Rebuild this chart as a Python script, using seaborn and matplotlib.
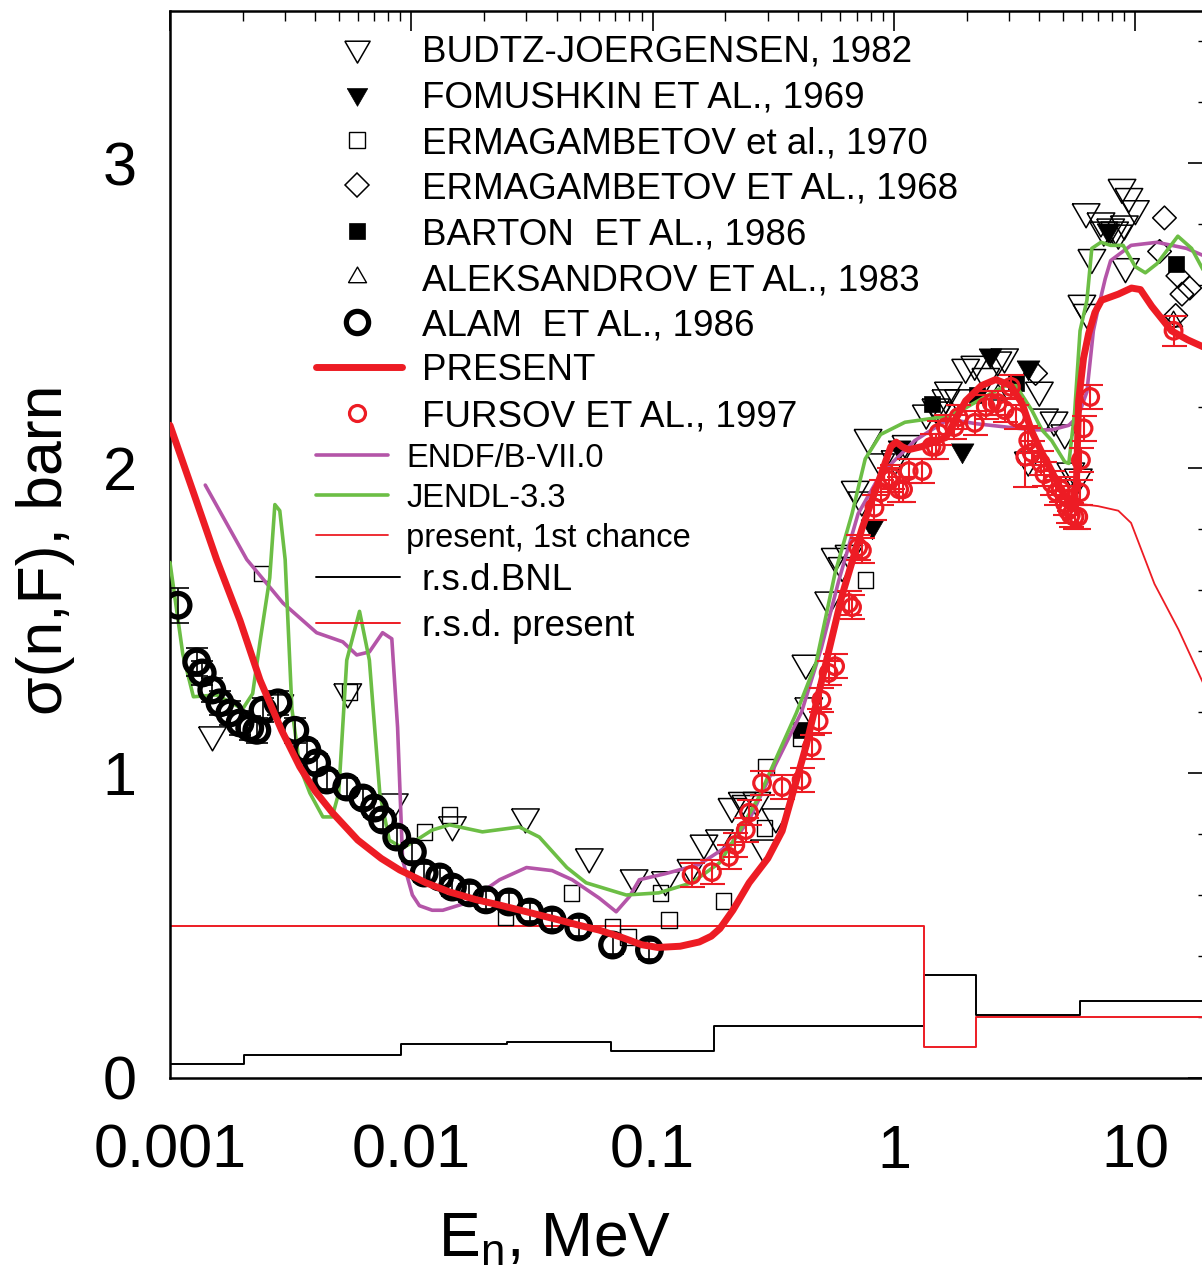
import numpy as np
import matplotlib
matplotlib.use("Agg")
import matplotlib.pyplot as plt
import seaborn as sns
from matplotlib.ticker import LogLocator, MultipleLocator, FixedLocator, FuncFormatter, NullFormatter
from matplotlib.markers import MarkerStyle
from matplotlib.lines import Line2D

# ---------------- data ----------------
present_E = [0.001, 0.00125, 0.00156, 0.00195, 0.00236, 0.00290, 0.00345, 0.0040, 0.00472, 0.0060,
             0.0075, 0.00895, 0.0115, 0.0144, 0.0185, 0.0232, 0.030, 0.040, 0.050, 0.060,
             0.075, 0.090, 0.105, 0.13, 0.156, 0.175, 0.19, 0.215, 0.251, 0.30,
             0.344, 0.431, 0.522, 0.608, 0.736, 0.867, 0.97, 1.02, 1.08, 1.15,
             1.3, 1.64, 1.98, 2.3, 2.64, 3.05, 3.4, 3.72, 4.1, 4.5,
             4.9, 5.3, 5.55, 5.7, 5.82, 6.1, 6.4, 6.8, 7.24, 8.5,
             9.64, 10.5, 11.7, 14.1, 16.5, 20.0]
present_S = [2.14, 1.92, 1.70, 1.50, 1.305, 1.14, 1.02, 0.94, 0.869, 0.78,
             0.72, 0.682, 0.64, 0.61, 0.585, 0.567, 0.545, 0.52, 0.50, 0.485,
             0.46, 0.437, 0.428, 0.432, 0.446, 0.465, 0.49, 0.55, 0.64, 0.72,
             0.81, 1.085, 1.36, 1.58, 1.80, 1.96, 2.07, 2.085, 2.07, 2.06,
             2.07, 2.10, 2.22, 2.27, 2.29, 2.27, 2.21, 2.12, 2.05, 1.99,
             1.93, 1.89, 1.875, 1.95, 2.22, 2.36, 2.44, 2.51, 2.55, 2.57,
             2.59, 2.585, 2.53, 2.45, 2.42, 2.39]

endf_E = [0.0014, 0.00208, 0.00294, 0.00405, 0.0052, 0.00594, 0.0067, 0.0076, 0.0083, 0.00877,
          0.0092, 0.0101, 0.0108, 0.0122, 0.0135, 0.0169, 0.0232, 0.030, 0.0383, 0.0464,
          0.060, 0.0706, 0.080, 0.088, 0.113, 0.156, 0.213, 0.251, 0.324, 0.414,
          0.50, 0.59, 0.71, 0.88, 1.22, 1.68, 2.2, 3.27, 3.86, 4.5,
          5.3, 5.8, 6.3, 6.7, 7.0, 7.5, 7.9, 9.6, 12.3, 16.3, 20.0]
endf_S = [1.944, 1.70, 1.557, 1.46, 1.43, 1.387, 1.397, 1.46, 1.44, 1.15,
          0.715, 0.60, 0.565, 0.55, 0.55, 0.574, 0.65, 0.69, 0.68, 0.65,
          0.59, 0.545, 0.594, 0.65, 0.67, 0.70, 0.77, 0.846, 1.03, 1.20,
          1.41, 1.63, 1.85, 1.98, 2.09, 2.16, 2.145, 2.13, 2.125, 2.125,
          2.14, 2.17, 2.25, 2.45, 2.52, 2.62, 2.68, 2.73, 2.74, 2.72, 2.69]

jendl_E = [0.001, 0.00113, 0.00125, 0.00156, 0.002, 0.0022, 0.00236, 0.00259, 0.00272, 0.00285,
           0.003, 0.0032, 0.00345, 0.0038, 0.0043, 0.0047, 0.0050, 0.0054, 0.0061, 0.0067,
           0.0074, 0.0081, 0.0092, 0.0105, 0.0122, 0.0144, 0.0197, 0.028, 0.0339, 0.0441,
           0.053, 0.0777, 0.106, 0.145, 0.189, 0.225, 0.275, 0.394, 0.475, 0.57,
           0.67, 0.76, 0.88, 1.11, 1.68, 1.98, 2.54, 2.9, 3.2, 3.72,
           4.1, 4.5, 5.1, 5.3, 5.6, 5.9, 6.3, 6.6, 7.2, 7.9,
           8.9, 10.0, 11.0, 12.3, 15.0, 17.1, 20.0]
jendl_S = [1.69, 1.39, 1.25, 1.256, 1.21, 1.26, 1.43, 1.64, 1.88, 1.86,
           1.70, 1.21, 1.02, 0.934, 0.856, 0.856, 0.934, 1.37, 1.53, 1.37,
           0.934, 0.78, 0.754, 0.78, 0.813, 0.83, 0.807, 0.823, 0.79, 0.69,
           0.64, 0.60, 0.607, 0.64, 0.705, 0.80, 0.92, 1.197, 1.36, 1.656,
           1.85, 2.03, 2.11, 2.15, 2.17, 2.197, 2.246, 2.27, 2.27, 2.19,
           2.125, 2.09, 2.02, 2.015, 2.18, 2.45, 2.55, 2.72, 2.74, 2.73,
           2.73, 2.66, 2.64, 2.67, 2.76, 2.72, 2.62]

first_E = [5.5, 7.0, 8.5, 9.6, 12.0, 15.1, 20.0]
first_S = [1.885, 1.875, 1.86, 1.82, 1.62, 1.47, 1.26]

bnl_edges = [0.001, 0.00202, 0.0091, 0.025, 0.067, 0.18, 1.33, 2.19, 5.9, 20.0]
bnl_rsd = [0.046, 0.075, 0.113, 0.119, 0.088, 0.171, 0.338, 0.207, 0.254, 0.254]
pres_edges = [0.001, 1.33, 2.19, 20.0]
pres_rsd = [0.50, 0.103, 0.20, 0.20]

budtz_E = [0.0015, 0.00285, 0.00545, 0.0085, 0.0148, 0.0297, 0.0546, 0.0837, 0.113, 0.144,
           0.163, 0.189, 0.213, 0.235, 0.243, 0.27, 0.29, 0.324, 0.431, 0.443,
           0.536, 0.57, 0.61, 0.65, 0.69, 0.736, 0.78, 0.88, 1.01, 1.12,
           1.36, 1.49, 1.53, 1.64, 1.68, 1.85, 1.98, 2.16, 2.4, 2.69,
           2.87, 3.6, 4.0, 4.2, 4.6, 5.1, 5.4, 5.8, 6.0, 6.25,
           6.3, 6.6, 7.2, 7.4, 7.9, 8.2, 8.5, 8.8, 9.0, 9.1, 9.4, 10.0]
budtz_S = [1.125, 1.23, 1.266, 0.905, 0.83, 0.856, 0.725, 0.656, 0.65, 0.69,
           0.77, 0.787, 0.89, 0.91, 0.90, 0.91, 0.754, 0.856, 1.36, 1.22,
           1.567, 1.71, 1.68, 1.72, 1.93, 1.895, 2.10, 2.02, 2.03, 2.08,
           2.18, 2.20, 2.19, 2.23, 2.255, 2.23, 2.33, 2.34, 2.30, 2.354,
           2.364, 2.026, 2.255, 2.167, 2.157, 2.115, 1.99, 1.97, 2.54, 2.84,
           2.51, 2.69, 2.81, 2.78, 2.79, 2.78, 2.77, 2.92, 2.80, 2.66, 2.89, 2.85]

fom_E = [0.81, 1.05, 1.91, 2.5, 3.6, 7.7]
fom_S = [1.81, 2.07, 2.06, 2.37, 2.33, 2.78]

erm70_E = [0.0024, 0.00556, 0.0113, 0.0144, 0.0246, 0.046, 0.068, 0.079, 0.108, 0.117,
           0.196, 0.29, 0.295, 0.41, 0.76]
erm70_S = [1.655, 1.266, 0.807, 0.862, 0.528, 0.607, 0.495, 0.462, 0.607, 0.518,
           0.58, 0.82, 1.02, 1.115, 1.633]

erm68_E = [3.86, 12.6, 13.2, 14.7, 15.0, 15.6, 16.8]
erm68_S = [2.31, 2.71, 2.82, 2.50, 2.63, 2.57, 2.59]

barton_E = [0.41, 1.43, 2.2, 3.2, 14.7]
barton_S = [1.14, 2.21, 2.24, 2.28, 2.67]

aleks_E = [2.7, 14.4]
aleks_S = [2.24, 2.48]

alam_E = [0.00108, 0.00129, 0.00136, 0.00149, 0.00161, 0.00177, 0.00195, 0.00214, 0.00229, 0.00243,
          0.0028, 0.00329, 0.00369, 0.00405, 0.00446, 0.0054, 0.0063, 0.00703, 0.0076, 0.0087,
          0.0101, 0.0113, 0.0131, 0.0148, 0.0174, 0.0204, 0.0254, 0.0309, 0.0383, 0.0494,
          0.0682, 0.097]
alam_S = [1.55, 1.364, 1.328, 1.272, 1.23, 1.197, 1.164, 1.148, 1.14, 1.206,
          1.23, 1.14, 1.075, 1.033, 0.977, 0.954, 0.918, 0.885, 0.846, 0.79,
          0.741, 0.672, 0.659, 0.626, 0.607, 0.584, 0.577, 0.544, 0.518, 0.495,
          0.436, 0.42]
alam_err = [0.058, 0.045, 0.04, 0.04, 0.04, 0.04, 0.04, 0.04, 0.04, 0.04,
            0.04, 0.04, 0.03, 0.03, 0.03, 0.03, 0.03, 0.03, 0.03, 0.03,
            0.03, 0.03, 0.03, 0.03, 0.03, 0.03, 0.03, 0.03, 0.03, 0.03,
            0.03, 0.03]

fursov_E = [0.145, 0.176, 0.207, 0.22, 0.243, 0.251, 0.284, 0.344, 0.414, 0.456,
            0.487, 0.50, 0.536, 0.57, 0.65, 0.67, 0.71, 0.736, 0.83, 0.88,
            0.95, 0.98, 1.05, 1.09, 1.15, 1.31, 1.43, 1.49, 1.53, 1.64,
            1.78, 1.85, 2.16, 2.4, 2.54, 2.69, 2.87, 3.05, 3.2, 3.5,
            3.6, 3.72, 4.06, 4.2, 4.5, 4.7, 5.1, 5.4, 5.8, 5.9,
            5.95, 6.1, 6.5, 14.4, 4.9, 5.25, 5.3, 5.6]
fursov_S = [0.666, 0.675, 0.725, 0.764, 0.813, 0.87, 0.967, 0.954, 0.977, 1.085,
            1.17, 1.24, 1.328, 1.35, 1.557, 1.544, 1.74, 1.73, 1.87, 1.92,
            1.96, 1.97, 1.93, 1.93, 1.99, 1.99, 2.07, 2.07, 2.115, 2.134,
            2.134, 2.167, 2.148, 2.20, 2.213, 2.213, 2.19, 2.266, 2.167, 2.037,
            2.09, 2.05, 2.016, 1.98, 1.95, 1.92, 1.885, 1.846, 1.84, 1.92,
            2.026, 2.13, 2.233, 2.45, 1.93, 1.86, 1.90, 1.84]
fursov_err = [0.04] * 39 + [0.10] + [0.04] * 13 + [0.05] + [0.04] * 4

x_ticks = [0.001, 0.01, 0.1, 1, 10]
x_tick_labels = ["0.001", "0.01", "0.1", "1", "10"]
y_ticks = [0, 1, 2, 3]

# ---------------- style ----------------
sns.set_theme(style="white")
plt.rcParams['font.family'] = ['Liberation Sans', 'DejaVu Sans']
plt.rcParams['mathtext.default'] = 'regular'
plt.rcParams['text.color'] = 'black'
plt.rcParams['axes.labelcolor'] = 'black'
plt.rcParams['xtick.color'] = 'black'
plt.rcParams['ytick.color'] = 'black'

RED = '#ED1C24'
PURPLE = '#B455A8'
GREEN = '#6CBE45'

W, H = 1202, 1283
fig = plt.figure(figsize=(W / 100, H / 100), dpi=100)
fig.patch.set_facecolor('white')
ax = fig.add_axes([170 / W, (H - 1078) / H, 1038 / W, 1067.5 / H])
ax.set_facecolor('white')
ax.set_xscale('log')

tri_down = MarkerStyle([(-1, 0.577), (1, 0.577), (0, -1.155), (-1, 0.577)])
tri_up = MarkerStyle([(-1, -0.577), (1, -0.577), (0, 1.155), (-1, -0.577)])

# step lines (relative std. dev.)
sns.lineplot(x=bnl_edges, y=bnl_rsd, ax=ax, color='black', lw=1.4,
             drawstyle='steps-post', estimator=None, sort=False, zorder=2)
sns.lineplot(x=pres_edges, y=pres_rsd, ax=ax, color=RED, lw=1.4,
             drawstyle='steps-post', estimator=None, sort=False, zorder=2)

# experimental data
sns.scatterplot(x=erm70_E, y=erm70_S, ax=ax, marker='s', s=11 ** 2, color='black',
                facecolor='none', edgecolor='black', linewidth=1.0, zorder=3, legend=False)
sns.scatterplot(x=erm68_E, y=erm68_S, ax=ax, marker='D', s=12 ** 2, color='black',
                facecolor='none', edgecolor='black', linewidth=1.1, zorder=3, legend=False)
sns.scatterplot(x=aleks_E, y=aleks_S, ax=ax, marker=tri_up, s=15 ** 2, color='black',
                facecolor='none', edgecolor='black', linewidth=1.0, zorder=3, legend=False)
sns.scatterplot(x=budtz_E, y=budtz_S, ax=ax, marker=tri_down, s=23 ** 2, color='black',
                facecolor='none', edgecolor='black', linewidth=1.1, zorder=3, legend=False)
sns.scatterplot(x=fom_E, y=fom_S, ax=ax, marker=tri_down, s=19 ** 2, color='black',
                edgecolor='black', linewidth=0.5, zorder=3, legend=False)
sns.scatterplot(x=barton_E, y=barton_S, ax=ax, marker='s', s=12 ** 2, color='black',
                edgecolor='black', linewidth=0.5, zorder=3, legend=False)

# evaluations
sns.lineplot(x=endf_E, y=endf_S, ax=ax, color=PURPLE, lw=2.6, estimator=None, sort=False, zorder=4)
sns.lineplot(x=jendl_E, y=jendl_S, ax=ax, color=GREEN, lw=2.6, estimator=None, sort=False, zorder=4)

# Alam
ax.errorbar(alam_E, alam_S, yerr=alam_err, fmt='none', ecolor='black', elinewidth=1.2,
            capsize=8, capthick=1.2, zorder=5)
sns.scatterplot(x=alam_E, y=alam_S, ax=ax, marker='o', s=17 ** 2, color='black',
                facecolor='none', edgecolor='black', linewidth=3.8, zorder=5, legend=False)

# Fursov
ax.errorbar(fursov_E, fursov_S, yerr=fursov_err, fmt='none', ecolor=RED, elinewidth=1.5,
            capsize=9, capthick=1.5, zorder=6)
sns.scatterplot(x=fursov_E, y=fursov_S, ax=ax, marker='o', s=12 ** 2, color=RED,
                facecolor='none', edgecolor=RED, linewidth=2.3, zorder=6, legend=False)

# present
sns.lineplot(x=first_E, y=first_S, ax=ax, color=RED, lw=1.3, estimator=None, sort=False, zorder=7)
sns.lineplot(x=present_E, y=present_S, ax=ax, color=RED, lw=5.0, estimator=None, sort=False,
             zorder=7, solid_capstyle='round')

# ---------------- axes ----------------
ax.set_xlim(0.001, 20)
ax.set_ylim(0, 3.5)
ax.xaxis.set_major_locator(FixedLocator(x_ticks))
ax.xaxis.set_major_formatter(FuncFormatter(lambda v, p: dict(zip(x_ticks, x_tick_labels)).get(v, "")))
ax.xaxis.set_minor_locator(LogLocator(base=10, subs=np.arange(2, 10), numticks=20))
ax.xaxis.set_minor_formatter(NullFormatter())
ax.yaxis.set_major_locator(FixedLocator(y_ticks))
ax.yaxis.set_minor_locator(MultipleLocator(0.2))
ax.tick_params(which='both', direction='in', top=True, right=True, colors='black')
ax.tick_params(which='major', length=14.5, width=1.2, labelsize=44, labelcolor='black')
ax.tick_params(which='minor', length=7.5, width=1.0)
ax.tick_params(axis='x', which='major', pad=33)
ax.tick_params(axis='y', which='major', pad=24)
for sp in ax.spines.values():
    sp.set_linewidth(1.8)
    sp.set_color('black')
ax.grid(False)

ax.set_xlabel("E$_\\mathregular{n}$, MeV", fontsize=45, va='center', ha='center', color='black')
ax.xaxis.set_label_coords((555 - 170) / 1038, -(1240 - 1078) / 1067.5)
ax.set_ylabel("\u03c3(n,F), barn", fontsize=45, va='center', ha='center', color='black')
ax.yaxis.set_label_coords((45 - 170) / 1038, (1078 - 550) / 1067.5)


# ---------------- legend (drawn by hand in figure pixels) ----------------
def fx(px):
    return px / W


def fy(py):
    return 1 - py / H


BIG, SMALL = 26.5, 23.5


def label(px, py, txt, size):
    em = size / 72 * 100
    fig.text(fx(px), fy(py + 0.358 * em), txt, fontsize=size, va='baseline', ha='left', color='black')


def mark(py, **kw):
    fig.add_artist(Line2D([fx(357)], [fy(py)], ls='none', **kw))


def seg(x0, x1, py, **kw):
    fig.add_artist(Line2D([fx(x0), fx(x1)], [fy(py), fy(py)], **kw))


mark(48, marker=tri_down, ms=21, mfc='none', mec='black', mew=1.1)
label(422, 48, "BUDTZ-JOERGENSEN, 1982", BIG)
mark(94, marker=tri_down, ms=17, mfc='black', mec='black', mew=0.5)
label(422, 94, "FOMUSHKIN ET AL., 1969", BIG)
mark(140, marker='s', ms=11, mfc='none', mec='black', mew=1.0)
label(422, 140, "ERMAGAMBETOV et al., 1970", BIG)
mark(185, marker='D', ms=12, mfc='none', mec='black', mew=1.1)
label(422, 185, "ERMAGAMBETOV ET AL., 1968", BIG)
mark(231, marker='s', ms=12, mfc='black', mec='black', mew=0.5)
label(422, 231, "BARTON  ET AL., 1986", BIG)
mark(277, marker=tri_up, ms=15, mfc='none', mec='black', mew=1.0)
label(422, 277, "ALEKSANDROV ET AL., 1983", BIG)
mark(322, marker='o', ms=16, mfc='none', mec='black', mew=3.8)
label(422, 322, "ALAM  ET AL., 1986", BIG)
seg(316, 402, 367, color=RED, lw=5.0, solid_capstyle='round')
label(422, 367, "PRESENT", BIG)
mark(413, marker='o', ms=11.5, mfc='none', mec=RED, mew=2.3)
label(422, 413, "FURSOV ET AL., 1997", BIG)
seg(316, 388, 455, color=PURPLE, lw=2.6)
label(406, 455, "ENDF/B-VII.0", SMALL)
seg(316, 388, 495, color=GREEN, lw=2.6)
label(406, 495, "JENDL-3.3", SMALL)
seg(316, 388, 535, color=RED, lw=1.3)
label(406, 535, "present, 1st chance", SMALL)
seg(316, 400, 577, color='black', lw=1.4)
label(422, 577, "r.s.d.BNL", BIG)
seg(316, 400, 623, color=RED, lw=1.4)
label(422, 623, "r.s.d. present", BIG)

fig.savefig("out.png", dpi=100, facecolor='white')
